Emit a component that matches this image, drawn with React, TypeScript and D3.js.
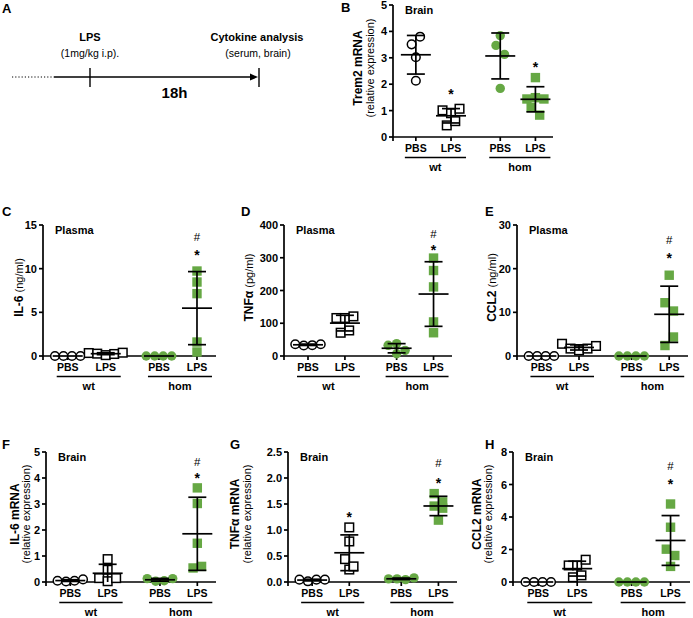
import React from 'react';
import * as d3 from 'd3';

const FONT = '"Liberation Sans", Arial, Helvetica, sans-serif';
const GREEN = '#66a844';

const treatmentLabels = ['PBS', 'LPS', 'PBS', 'LPS'];
const genotypeLabels = ['wt', 'hom'];
const groupPositions = [0.65, 1.65, 3.05, 4.05];

// B: Trem2 mRNA, brain
const trem2WtPBS = [3.51, 3.8, 3.02, 2.13];
const trem2WtLPS = [1.01, 0.9, 1.07, 0.44, 0.6];
const trem2HomPBS = [3.84, 3.47, 3.13, 1.84];
const trem2HomLPS = [2.25, 1.44, 1.49, 1.44, 1.12, 0.83];
const trem2Ticks = [0, 1, 2, 3, 4, 5];
const trem2Sig = [{ group: 1, mark: '*', level: 1.7 }, { group: 3, mark: '*', level: 2.73 }];

// C: IL-6 plasma (ng/ml)
const il6PWtPBS = [0, 0, 0, 0];
const il6PWtLPS = [0.34, 0.27, 0.1, 0.23, 0.38];
const il6PHomPBS = [0, 0, 0, 0];
const il6PHomLPS = [9.73, 8.47, 7.14, 1.6, 0.46];
const il6PTicks = [0, 5, 10, 15];
const il6PSig = [{ group: 3, mark: '*', level: 11.8 }, { group: 3, mark: '#', level: 13.6 }];

// D: TNFa plasma (pg/ml)
const tnfPWtPBS = [36, 32, 33, 36];
const tnfPWtLPS = [116, 116, 121, 71, 78];
const tnfPHomPBS = [32.6, 37.7, 17.3, 7];
const tnfPHomLPS = [299, 261, 211, 104, 71];
const tnfPTicks = [0, 100, 200, 300, 400];
const tnfPSig = [{ group: 3, mark: '*', level: 331 }, { group: 3, mark: '#', level: 372 }];

// E: CCL2 plasma (ng/ml)
const ccl2PWtPBS = [0, 0, 0, 0];
const ccl2PWtLPS = [2.8, 1.7, 1.3, 1.7, 2.3];
const ccl2PHomPBS = [0, 0, 0, 0];
const ccl2PHomLPS = [18.5, 12.2, 10.3, 2.4, 4.35];
const ccl2PTicks = [0, 10, 20, 30];
const ccl2PSig = [{ group: 3, mark: '*', level: 22.9 }, { group: 3, mark: '#', level: 26.6 }];

// F: IL-6 mRNA brain
const il6BWtPBS = [0.05, 0.02, 0.05, 0.1];
const il6BWtLPS = [0.15, 0.88, 0.47, 0.03, 0.15];
const il6BHomPBS = [0.13, 0.03, 0.05, 0.13];
const il6BHomLPS = [3.62, 3.02, 1.49, 0.54, 0.6];
const il6BTicks = [0, 1, 2, 3, 4, 5];
const il6BSig = [{ group: 3, mark: '*', level: 4.08 }, { group: 3, mark: '#', level: 4.62 }];

// G: TNFa mRNA brain
const tnfBWtPBS = [0.045, 0.013, 0.045, 0.045];
const tnfBWtLPS = [1.05, 0.78, 0.24, 0.44, 0.3];
const tnfBHomPBS = [0.06, 0.06, 0.045, 0.08];
const tnfBHomLPS = [1.46, 1.7, 1.42, 1.19, 1.54];
const tnfBTicks = [0, 0.5, 1.0, 1.5, 2.0, 2.5];
const tnfBSig = [
  { group: 1, mark: '*', level: 1.29 },
  { group: 3, mark: '*', level: 1.94 },
  { group: 3, mark: '#', level: 2.28 },
];

// H: CCL2 mRNA brain
const ccl2BWtPBS = [0, 0, 0, 0];
const ccl2BWtLPS = [1.02, 1.02, 1.37, 0.29, 0.41];
const ccl2BHomPBS = [0, 0, 0, 0];
const ccl2BHomLPS = [4.8, 3.37, 2.02, 1.63, 0.96];
const ccl2BTicks = [0, 2, 4, 6, 8];
const ccl2BSig = [{ group: 3, mark: '*', level: 6.15 }, { group: 3, mark: '#', level: 7.15 }];

type Sig = { group: number; mark: string; level: number };
type PanelCfg = {
  letter: string; lx: number; ly: number;
  x0: number; x1: number; yTop: number; yBot: number;
  ticks: number[]; fmt: (v: number) => string;
  title: string; yl1: string; yl2: string; twoLine: boolean;
  l1x: number; l2x: number;
  groups: number[][]; sig: Sig[];
};

const fmtInt = d3.format('d');
const fmt1 = d3.format('.1f');

const panels: PanelCfg[] = [
  { letter: 'B', lx: 341, ly: 12, x0: 393, x1: 553, yTop: 5, yBot: 137, ticks: trem2Ticks, fmt: fmtInt,
    title: 'Brain', yl1: 'Trem2 mRNA', yl2: '(relative expression)', twoLine: true, l1x: 358, l2x: 370,
    groups: [trem2WtPBS, trem2WtLPS, trem2HomPBS, trem2HomLPS], sig: trem2Sig },
  { letter: 'C', lx: 2, ly: 216, x0: 43, x1: 216, yTop: 225, yBot: 356, ticks: il6PTicks, fmt: fmtInt,
    title: 'Plasma', yl1: 'IL-6', yl2: ' (ng/ml)', twoLine: false, l1x: 17, l2x: 17,
    groups: [il6PWtPBS, il6PWtLPS, il6PHomPBS, il6PHomLPS], sig: il6PSig },
  { letter: 'D', lx: 241, ly: 216, x0: 284, x1: 452, yTop: 225, yBot: 356, ticks: tnfPTicks, fmt: fmtInt,
    title: 'Plasma', yl1: 'TNFα', yl2: ' (pg/ml)', twoLine: false, l1x: 247, l2x: 247,
    groups: [tnfPWtPBS, tnfPWtLPS, tnfPHomPBS, tnfPHomLPS], sig: tnfPSig },
  { letter: 'E', lx: 485, ly: 216, x0: 517, x1: 688, yTop: 225, yBot: 356, ticks: ccl2PTicks, fmt: fmtInt,
    title: 'Plasma', yl1: 'CCL2', yl2: ' (ng/ml)', twoLine: false, l1x: 490, l2x: 490,
    groups: [ccl2PWtPBS, ccl2PWtLPS, ccl2PHomPBS, ccl2PHomLPS], sig: ccl2PSig },
  { letter: 'F', lx: 2, ly: 449, x0: 46, x1: 216, yTop: 452, yBot: 582, ticks: il6BTicks, fmt: fmtInt,
    title: 'Brain', yl1: 'IL-6 mRNA', yl2: '(relative expression)', twoLine: true, l1x: 15, l2x: 26.5,
    groups: [il6BWtPBS, il6BWtLPS, il6BHomPBS, il6BHomLPS], sig: il6BSig },
  { letter: 'G', lx: 230, ly: 449, x0: 288, x1: 457, yTop: 452, yBot: 582, ticks: tnfBTicks, fmt: fmt1,
    title: 'Brain', yl1: 'TNFα mRNA', yl2: '(relative expression)', twoLine: true, l1x: 235, l2x: 247,
    groups: [tnfBWtPBS, tnfBWtLPS, tnfBHomPBS, tnfBHomLPS], sig: tnfBSig },
  { letter: 'H', lx: 485, ly: 449, x0: 513, x1: 690, yTop: 452, yBot: 582, ticks: ccl2BTicks, fmt: fmtInt,
    title: 'Brain', yl1: 'CCL2 mRNA', yl2: '(relative expression)', twoLine: true, l1x: 477, l2x: 488,
    groups: [ccl2BWtPBS, ccl2BWtLPS, ccl2BHomPBS, ccl2BHomLPS], sig: ccl2BSig },
];

function jitter(values: number[], y: (v: number) => number, thr = 9.5, spacing = 8.5) {
  const idx = values.map((_, i) => i).sort((a, b) => values[b] - values[a]);
  const offs = new Array(values.length).fill(0);
  let i = 0;
  while (i < idx.length) {
    const startY = y(values[idx[i]]);
    const cluster = [idx[i]];
    let j = i + 1;
    while (j < idx.length && Math.abs(y(values[idx[j]]) - startY) < thr) { cluster.push(idx[j]); j++; }
    cluster.sort((a, b) => a - b);
    cluster.forEach((k, m) => { offs[k] = (m - (cluster.length - 1) / 2) * spacing; });
    i = j;
  }
  return offs;
}

function Panel({ p }: { p: PanelCfg }) {
  const yMax = p.ticks[p.ticks.length - 1];
  const y = d3.scaleLinear().domain([0, yMax]).range([p.yBot, p.yTop]);
  const x = d3.scaleLinear().domain([0, 4.55]).range([p.x0, p.x1]);
  const yc = (p.yTop + p.yBot) / 2 - 3;
  const sw = 1.7;
  return (
    <g>
      <text x={p.lx} y={p.ly} fontSize={13} fontWeight="bold">{p.letter}</text>
      {/* axes */}
      <line x1={p.x0} x2={p.x0} y1={p.yTop} y2={p.yBot + 4} stroke="#000" strokeWidth={sw} />
      <line x1={p.x0} x2={p.x1} y1={p.yBot} y2={p.yBot} stroke="#000" strokeWidth={sw} />
      {p.ticks.map((t) => (
        <g key={t}>
          <line x1={p.x0 - 4} x2={p.x0} y1={y(t)} y2={y(t)} stroke="#000" strokeWidth={sw} />
          <text x={p.x0 - 6} y={y(t) + 4} fontSize={11} fontWeight="bold" textAnchor="end">{p.fmt(t)}</text>
        </g>
      ))}
      {groupPositions.map((g, i) => (
        <g key={i}>
          <line x1={x(g)} x2={x(g)} y1={p.yBot} y2={p.yBot + 4} stroke="#000" strokeWidth={sw} />
          <text x={x(g)} y={p.yBot + 15} fontSize={10.5} fontWeight="bold" textAnchor="middle">{treatmentLabels[i]}</text>
        </g>
      ))}
      {genotypeLabels.map((gl, k) => {
        const a = x(groupPositions[k * 2]) - 11;
        const b = x(groupPositions[k * 2 + 1]) + 15;
        return (
          <g key={gl}>
            <line x1={a} x2={b} y1={p.yBot + 20.5} y2={p.yBot + 20.5} stroke="#000" strokeWidth={1.3} />
            <text x={(a + b) / 2} y={p.yBot + 33.5} fontSize={11} fontWeight="bold" textAnchor="middle">{gl}</text>
          </g>
        );
      })}
      {/* title */}
      <text x={p.x0 + 12} y={p.yTop + 9} fontSize={11} fontWeight="bold">{p.title}</text>
      {/* y label */}
      {p.twoLine ? (
        <g>
          <text transform={`translate(${p.l1x},${yc}) rotate(-90)`} fontSize={12} fontWeight="bold" textAnchor="middle" dy="0.35em">{p.yl1}</text>
          <text transform={`translate(${p.l2x},${yc}) rotate(-90)`} fontSize={11} textAnchor="middle" dy="0.35em">{p.yl2}</text>
        </g>
      ) : (
        <text transform={`translate(${p.l1x},${yc}) rotate(-90)`} textAnchor="middle" dy="0.35em">
          <tspan fontSize={12} fontWeight="bold">{p.yl1}</tspan>
          <tspan fontSize={11}>{p.yl2}</tspan>
        </text>
      )}
      {/* points */}
      {p.groups.map((vals, gi) => {
        const offs = jitter(vals, y);
        const cx = x(groupPositions[gi]);
        const hom = gi >= 2;
        const isCircle = gi % 2 === 0;
        return (
          <g key={gi}>
            {vals.map((v, k) => isCircle ? (
              <circle key={k} cx={cx + offs[k]} cy={y(v)} r={hom ? 4.7 : 4.3}
                fill={hom ? GREEN : '#fff'} stroke={hom ? 'none' : '#000'} strokeWidth={1.5} />
            ) : (
              hom ? <rect key={k} x={cx + offs[k] - 4.7} y={y(v) - 4.7} width={9.4} height={9.4} fill={GREEN} />
                : <rect key={k} x={cx + offs[k] - 4.3} y={y(v) - 4.3} width={8.6} height={8.6} fill="#fff" stroke="#000" strokeWidth={1.5} />
            ))}
          </g>
        );
      })}
      {/* error bars: mean ± SD */}
      {p.groups.map((vals, gi) => {
        const m = d3.mean(vals) as number;
        const sd = vals.some((v) => v !== vals[0]) ? (d3.deviation(vals) as number) : 0;
        const cx = x(groupPositions[gi]);
        return (
          <g key={gi} stroke="#000" strokeWidth={sw}>
            <line x1={cx - 15} x2={cx + 15} y1={y(m)} y2={y(m)} />
            {sd > 0 && (
              <g>
                <line x1={cx} x2={cx} y1={y(m + sd)} y2={y(Math.max(m - sd, 0))} />
                <line x1={cx - 9} x2={cx + 9} y1={y(m + sd)} y2={y(m + sd)} />
                {m - sd > 0 && <line x1={cx - 9} x2={cx + 9} y1={y(m - sd)} y2={y(m - sd)} />}
              </g>
            )}
          </g>
        );
      })}
      {/* significance */}
      {p.sig.map((s, k) => (
        s.mark === '*' ? (
          <text key={k} x={x(groupPositions[s.group])} y={y(s.level) + 7} fontSize={14} fontWeight="bold" textAnchor="middle">*</text>
        ) : (
          <text key={k} x={x(groupPositions[s.group])} y={y(s.level) + 4} fontSize={11.5} textAnchor="middle">#</text>
        )
      ))}
    </g>
  );
}

function PanelA() {
  const t = d3.scaleLinear().domain([0, 18]).range([90, 259]);
  const yLine = 77;
  return (
    <g>
      <text x={2} y={13} fontSize={13} fontWeight="bold">A</text>
      <line x1={12} x2={54} y1={yLine} y2={yLine} stroke="#000" strokeWidth={1} strokeDasharray="1.2,2" />
      <line x1={54} x2={t(18) - 6} y1={yLine} y2={yLine} stroke="#000" strokeWidth={1.4} />
      <path d={`M${t(18) - 1},${yLine} L${t(18) - 9},${yLine - 3.5} L${t(18) - 9},${yLine + 3.5} Z`} fill="#000" />
      <line x1={t(0)} x2={t(0)} y1={68} y2={87} stroke="#000" strokeWidth={1.4} />
      <line x1={t(18)} x2={t(18)} y1={68} y2={87} stroke="#000" strokeWidth={1.4} />
      <text x={t(0)} y={41} fontSize={11} fontWeight="bold" textAnchor="middle">LPS</text>
      <text x={t(0)} y={57} fontSize={10.5} textAnchor="middle">(1mg/kg i.p).</text>
      <text x={257} y={41} fontSize={11} fontWeight="bold" textAnchor="middle">Cytokine analysis</text>
      <text x={258} y={57} fontSize={10.5} textAnchor="middle">(serum, brain)</text>
      <text x={t(9)} y={98} fontSize={15} fontWeight="bold" textAnchor="middle">18h</text>
    </g>
  );
}

export default function App() {
  return (
    <svg width={693} height={618} style={{ position: 'absolute', left: 0, top: 0, background: '#fff' }}
      fontFamily={FONT}>
      <rect width={693} height={618} fill="#fff" />
      <PanelA />
      {panels.map((p) => <Panel key={p.letter} p={p} />)}
    </svg>
  );
}
